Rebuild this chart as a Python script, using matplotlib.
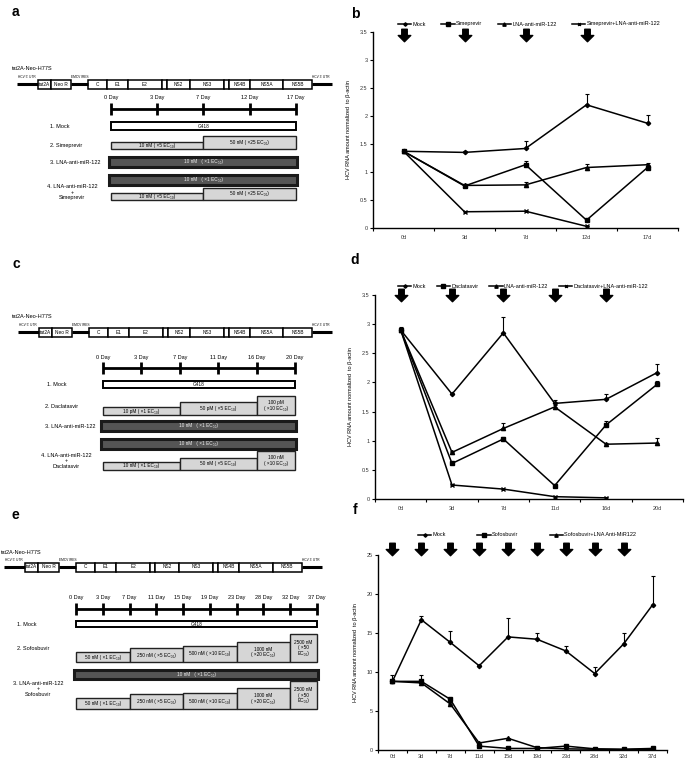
"""Recreate the three-part HCV replicon treatment figure (schemes a/c/e, curves b/d/f)."""

import matplotlib
matplotlib.use('Agg')
import matplotlib.pyplot as plt
import matplotlib.transforms as mtransforms
from matplotlib.patches import Rectangle
from matplotlib.path import Path
import numpy as np

plt.rcParams['font.family'] = ['Liberation Sans', 'DejaVu Sans']

W, H = 685, 758
nan = np.nan

# ---------------- data ----------------
construct_name = 'tat2A-Neo-H77S'
genome_names = [None, 'tat2A', 'Neo R', None, 'C', 'E1', 'E2', '', 'NS2', 'NS3', '',
                'NS4B', 'NS5A', 'NS5B', None]
genome_widths = [21, 13, 20, 17, 19, 21, 34, 5, 23, 34, 5, 21, 33, 29, 20]

days_a = ['0 Day', '3 Day', '7 Day', '12 Day', '17 Day']
sime_steps = [(0, 2, '10 nM ( \u00d75 EC\u2085\u2080)'), (2, 4, '50 nM ( \u00d725 EC\u2085\u2080)')]
lna_text = '10 nM   ( \u00d71 EC\u2085\u2080)'

days_c = ['0 Day', '3 Day', '7 Day', '11 Day', '16 Day', '20 Day']
dacla_steps = [(0, 2, '10 pM ( \u00d71 EC\u2085\u2080)'), (2, 4, '50 pM ( \u00d75 EC\u2085\u2080)'),
               (4, 5, '100 pM\n( \u00d710 EC\u2085\u2080)')]
dacla_combo_steps = [(0, 2, '10 nM ( \u00d71 EC\u2085\u2080)'), (2, 4, '50 nM ( \u00d75 EC\u2085\u2080)'),
                     (4, 5, '100 nM\n( \u00d710 EC\u2085\u2080)')]

days_e = ['0 Day', '3 Day', '7 Day', '11 Day', '15 Day', '19 Day', '23 Day', '28 Day',
          '32 Day', '37 Day']
sofo_steps = [(0, 2, '50 nM ( \u00d71 EC\u2085\u2080)'), (2, 4, '250 nM ( \u00d75 EC\u2085\u2080)'),
              (4, 6, '500 nM ( \u00d710 EC\u2085\u2080)'), (6, 8, '1000 nM\n( \u00d720 EC\u2085\u2080)'),
              (8, 9, '2500 nM\n( \u00d750\nEC\u2085\u2080)')]

b_days = ['0d', '3d', '7d', '12d', '17d']
b_labels = ['Mock', 'Simeprevir', 'LNA-anti-miR-122', 'Simeprevir+LNA-anti-miR-122']
b_mock = [1.37, 1.35, 1.42, 2.20, 1.87]
b_mock_err = [0.02, 0.02, 0.14, 0.20, 0.14]
b_sime = [1.37, 0.75, 1.13, 0.14, 1.08]
b_sime_err = [0.0, 0.02, 0.06, 0.02, 0.03]
b_lna = [1.37, 0.76, 0.77, 1.08, 1.13]
b_lna_err = [0.0, 0.02, 0.06, 0.06, 0.03]
b_combo = [1.37, 0.29, 0.30, 0.03, nan]
b_combo_err = [0.0, 0.01, 0.01, 0.01, 0.0]
b_arrows = [0, 1, 2, 3]

d_days = ['0d', '3d', '7d', '11d', '16d', '20d']
d_labels = ['Mock', 'Daclatasvir', 'LNA-anti-miR-122', 'Daclatasvir+LNA-anti-miR-122']
d_mock = [2.90, 1.80, 2.85, 1.64, 1.71, 2.17]
d_mock_err = [0.05, 0.02, 0.28, 0.05, 0.09, 0.14]
d_dacla = [2.90, 0.61, 1.03, 0.23, 1.27, 1.97]
d_dacla_err = [0.03, 0.02, 0.03, 0.02, 0.06, 0.05]
d_lna = [2.90, 0.80, 1.21, 1.58, 0.94, 0.96]
d_lna_err = [0.02, 0.03, 0.10, 0.03, 0.02, 0.08]
d_combo = [2.90, 0.24, 0.17, 0.04, 0.02, nan]
d_combo_err = [0.0, 0.01, 0.01, 0.01, 0.01, 0.0]
d_arrows = [0, 1, 2, 3, 4]

f_days = ['0d', '3d', '7d', '11d', '15d', '19d', '23d', '28d', '32d', '37d']
f_labels = ['Mock', 'Sofosbuvir', 'Sofosbuvir+LNA Anti-MiR122']
f_mock = [8.8, 16.7, 13.8, 10.8, 14.5, 14.2, 12.7, 9.8, 13.6, 18.6]
f_mock_err = [0.8, 0.5, 1.4, 0.1, 2.4, 0.8, 0.6, 0.8, 1.4, 3.7]
f_sofo = [8.8, 8.8, 6.5, 0.5, 0.2, 0.2, 0.5, 0.15, 0.1, 0.2]
f_sofo_err = [0.3, 0.8, 0.2, 0.1, 0.05, 0.05, 0.1, 0.05, 0.05, 0.05]
f_combo = [8.8, 8.6, 5.9, 0.9, 1.5, 0.3, 0.15, 0.1, 0.05, 0.1]
f_combo_err = [0.2, 0.3, 0.2, 0.1, 0.1, 0.05, 0.05, 0.05, 0.05, 0.05]
f_arrows = [0, 1, 2, 3, 4, 5, 6, 7, 8]

# ---------------- styles ----------------
TXT = 4.0
SMALL = 3.4
DRUG_FC = '#d6d6d6'
LNA_FC = '#555555'
YLABEL = 'HCV RNA amount normalized  to \u03b2-actin'

ARROW = Path([(-0.22, 0.5), (0.22, 0.5), (0.22, 0.0), (0.5, 0.0), (0.0, -0.5),
              (-0.5, 0.0), (-0.22, 0.0), (-0.22, 0.5)], closed=True)


def draw_genome(ax, x0, x1, y, name_xy):
    ax.text(name_xy[0], name_xy[1], construct_name, fontsize=TXT, va='center')
    scale = (x1 - x0) / sum(genome_widths)
    x = x0
    for i, (name, w) in enumerate(zip(genome_names, genome_widths)):
        seg = w * scale
        if name is None:
            ax.plot([x, x + seg], [y, y], color='k', lw=2.2, solid_capstyle='butt')
        else:
            ax.add_patch(Rectangle((x, y - 4.5), seg, 9, fc='white', ec='k', lw=1.1))
            ax.text(x + seg / 2, y, name, fontsize=SMALL, ha='center', va='center')
        if i == 0:
            ax.text(x + 1, y - 7, "HCV 5' UTR", fontsize=2.3, va='center')
        elif i == 3:
            ax.text(x, y - 7, 'EMCV IRES', fontsize=2.3, va='center')
        elif i == len(genome_names) - 1:
            ax.text(x, y - 7, "HCV 3' UTR", fontsize=2.3, va='center')
        x += seg


def draw_timeline(ax, labels, x0, x1, y):
    xs = np.linspace(x0, x1, len(labels))
    ax.plot([x0, x1], [y, y], color='k', lw=2.0, solid_capstyle='butt')
    for x, lab in zip(xs, labels):
        ax.plot([x, x], [y - 6, y + 6], color='k', lw=2.0, solid_capstyle='butt')
        ax.text(x, y - 11, lab, fontsize=TXT, ha='center', va='center')
    return xs


def mock_box(ax, xs, top, bottom):
    ax.add_patch(Rectangle((xs[0], top), xs[-1] - xs[0], bottom - top,
                           fc='white', ec='k', lw=1.4))
    ax.text((xs[0] + xs[-1]) / 2, (top + bottom) / 2, 'G418', fontsize=SMALL,
            ha='center', va='center')


def lna_box(ax, xs, top, bottom):
    ax.add_patch(Rectangle((xs[0] - 2, top), xs[-1] - xs[0] + 3, bottom - top,
                           fc=LNA_FC, ec='#1a1a1a', lw=2.2))
    ax.text((xs[0] + xs[-1]) / 2, (top + bottom) / 2, lna_text, fontsize=SMALL,
            ha='center', va='center', color='#f0f0f0')


def step_boxes(ax, xs, steps, bottom, heights):
    for (i0, i1, txt), h in zip(steps, heights):
        ax.add_patch(Rectangle((xs[i0], bottom - h), xs[i1] - xs[i0], h,
                               fc=DRUG_FC, ec='#222222', lw=1.0))
        ax.text((xs[i0] + xs[i1]) / 2, bottom - h / 2, txt, fontsize=SMALL,
                ha='center', va='center', linespacing=1.1)


def data_axes(fig, left, right, top, bottom):
    return fig.add_axes([left / W, 1 - bottom / H, (right - left) / W, (bottom - top) / H])


def plot_curves(ax, cats, series, labels, markers, ylim, yticks, arrows, geom):
    left, right, top, bottom, leg_x0, leg_x1, leg_y, arr_y = geom
    x = np.arange(len(cats))
    for vals, errs, lab, (mk, ms) in zip(series[0::2], series[1::2], labels, markers):
        vals = np.asarray(vals, float)
        errs = np.asarray(errs, float)
        ax.errorbar(x, vals, yerr=[np.zeros_like(errs), errs], fmt='none',
                    ecolor='k', elinewidth=0.8, capsize=1.3, capthick=0.8)
        ax.plot(x, vals, color='k', lw=1.1, marker=mk, ms=ms, mfc='k', mec='k', label=lab)
    ax.set_xlim(-0.5, len(cats) - 0.5)
    ax.set_ylim(*ylim)
    ax.set_yticks(yticks)
    ax.set_yticklabels(['%g' % t for t in yticks])
    ax.set_xticks(x)
    ax.set_xticklabels(cats)
    ax.set_xticks(np.arange(len(cats) + 1) - 0.5, minor=True)
    ax.tick_params(axis='x', which='major', length=0, labelsize=TXT, pad=5, labelcolor='#333')
    ax.tick_params(axis='x', which='minor', length=2, width=0.8, direction='out')
    ax.tick_params(axis='y', length=2, width=0.8, labelsize=TXT, pad=2, labelcolor='#333')
    for s in ['top', 'right']:
        ax.spines[s].set_visible(False)
    for s in ['left', 'bottom']:
        ax.spines[s].set_linewidth(1.0)
    ax.set_ylabel(YLABEL, fontsize=TXT, labelpad=6)

    fx = lambda px: (px - left) / (right - left)
    fy = lambda py: (bottom - py) / (bottom - top)
    ax.legend(loc='center left', bbox_to_anchor=(fx(leg_x0), fy(leg_y), fx(leg_x1) - fx(leg_x0), 0),
              mode='expand', ncol=len(labels), frameon=False, fontsize=TXT,
              handlelength=2.4, handletextpad=0.2, borderaxespad=0, borderpad=0, markerscale=0.8)
    trans = mtransforms.blended_transform_factory(ax.transData, ax.transAxes)
    ax.plot(arrows, [fy(arr_y)] * len(arrows), ls='none', marker=ARROW, ms=9,
            color='k', transform=trans, clip_on=False)


def main():
    fig = plt.figure(figsize=(W / 100, H / 100), dpi=100)
    ov = fig.add_axes([0, 0, 1, 1])
    ov.set_xlim(0, W)
    ov.set_ylim(H, 0)
    ov.axis('off')

    for lab, (x, y) in zip('abcdef', [(15, 12), (355, 14), (16, 264), (355, 260), (15, 515), (355, 510)]):
        ov.text(x, y, lab, fontsize=10, fontweight='bold', ha='center', va='center')

    # ---- a ----
    draw_genome(ov, 17, 332, 84, (12, 68))
    xs = draw_timeline(ov, days_a, 111, 296, 109)
    ov.text(50, 126, '1. Mock', fontsize=TXT, va='center')
    mock_box(ov, xs, 122, 130)
    ov.text(50, 146, '2. Simeprevir', fontsize=TXT, va='center')
    step_boxes(ov, xs, sime_steps, 149, [7, 13])
    ov.text(50, 162, '3. LNA-anti-miR-122', fontsize=TXT, va='center')
    lna_box(ov, xs, 157, 167)
    lna_box(ov, xs, 175, 185)
    ov.text(72, 192, '4. LNA-anti-miR-122\n+\nSimeprevir', fontsize=TXT, ha='center',
            va='center', multialignment='center', linespacing=1.15)
    step_boxes(ov, xs, sime_steps, 200, [7, 12])

    # ---- c ----
    draw_genome(ov, 18, 332, 332, (12, 317))
    xs = draw_timeline(ov, days_c, 103, 295, 368)
    ov.text(47, 385, '1. Mock', fontsize=TXT, va='center')
    mock_box(ov, xs, 381, 388)
    ov.text(45, 407, '2. Daclatasvir', fontsize=TXT, va='center')
    step_boxes(ov, xs, dacla_steps, 415, [8, 13, 19])
    ov.text(45, 426, '3. LNA-anti-miR-122', fontsize=TXT, va='center')
    lna_box(ov, xs, 421, 431)
    lna_box(ov, xs, 439, 449)
    ov.text(66, 461, '4. LNA-anti-miR-122\n+\nDaclatasvir', fontsize=TXT, ha='center',
            va='center', multialignment='center', linespacing=1.15)
    step_boxes(ov, xs, dacla_combo_steps, 470, [8, 12, 19])

    # ---- e ----
    draw_genome(ov, 4, 322, 567, (1, 552))
    xs = draw_timeline(ov, days_e, 76, 317, 609)
    ov.text(17, 624, '1. Mock', fontsize=TXT, va='center')
    mock_box(ov, xs, 621, 627)
    ov.text(17, 649, '2. Sofosbuvir', fontsize=TXT, va='center')
    step_boxes(ov, xs, sofo_steps, 662, [10, 14, 16, 20, 28])
    lna_box(ov, xs, 670, 679)
    ov.text(38, 689, '3. LNA-anti-miR-122\n+\nSofosbuvir', fontsize=TXT, ha='center',
            va='center', multialignment='center', linespacing=1.15)
    step_boxes(ov, xs, sofo_steps, 709, [11, 15, 16, 21, 28])

    # ---- b ----
    geom = (373, 678, 32, 228, 398, 660, 24, 35)
    ax = data_axes(fig, *geom[:4])
    plot_curves(ax, b_days,
                [b_mock, b_mock_err, b_sime, b_sime_err, b_lna, b_lna_err, b_combo, b_combo_err],
                b_labels, [('D', 2.2), ('s', 3.2), ('^', 3.0), ('x', 2.5)],
                (0, 3.5), np.arange(0, 3.51, 0.5), b_arrows, geom)

    # ---- d ----
    geom = (375, 683, 295, 499, 398, 648, 286, 295)
    ax = data_axes(fig, *geom[:4])
    plot_curves(ax, d_days,
                [d_mock, d_mock_err, d_dacla, d_dacla_err, d_lna, d_lna_err, d_combo, d_combo_err],
                d_labels, [('D', 2.2), ('s', 3.2), ('^', 3.0), ('x', 2.5)],
                (0, 3.5), np.arange(0, 3.51, 0.5), d_arrows, geom)

    # ---- f ----
    geom = (378, 667, 555, 750, 418, 636, 535, 549)
    ax = data_axes(fig, *geom[:4])
    plot_curves(ax, f_days,
                [f_mock, f_mock_err, f_sofo, f_sofo_err, f_combo, f_combo_err],
                f_labels, [('D', 2.2), ('s', 3.2), ('^', 3.0)],
                (0, 25), np.arange(0, 25.1, 5), f_arrows, geom)
    ax.tick_params(axis='x', which='major', pad=3)

    fig.savefig('out.png', dpi=100)


if __name__ == '__main__':
    main()
